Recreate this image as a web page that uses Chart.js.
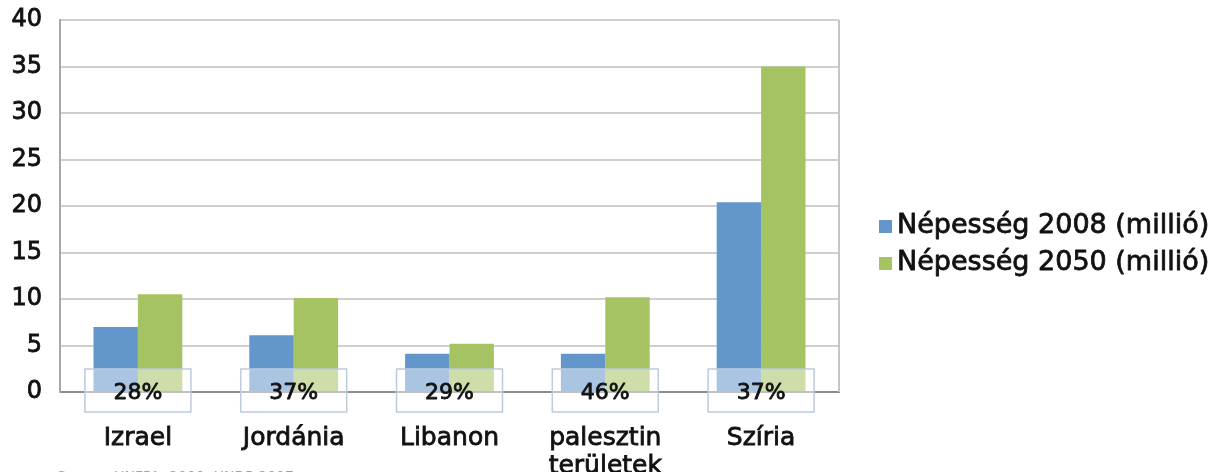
<!DOCTYPE html>
<html>
<head>
<meta charset="utf-8">
<script src="https://cdn.jsdelivr.net/npm/chart.js@4/dist/chart.umd.min.js"></script>
<style>
  html, body { margin: 0; padding: 0; background: #fff; }
  #wrap { width: 1217px; height: 472px; position: relative; }
</style>
</head>
<body>
<div id="wrap"><canvas id="chart"></canvas></div>
<script>
const countries = ['Izrael', 'Jordánia', 'Libanon', ['palesztin', 'területek'], 'Szíria'];
const pop2008 = [7.0, 6.1, 4.1, 4.1, 20.4];
const pop2050 = [10.5, 10.1, 5.2, 10.2, 35.0];
const shares = ['28%', '37%', '29%', '46%', '37%'];
const seriesNames = ['Népesség 2008 (millió)', 'Népesség 2050 (millió)'];

const FONT = '"DejaVu Sans", Verdana, sans-serif';
const BLUE = '#6396cb';
const GREEN = '#a6c364';

// draw text a bit heavier, like the blurred original
function heavyText(ctx, s, x, y, color) {
    ctx.fillStyle = color;
    ctx.strokeStyle = color;
    ctx.lineWidth = 0.8;
    ctx.lineJoin = 'round';
    ctx.strokeText(s, x, y);
    ctx.fillText(s, x, y);
}

// percent boxes sitting on the zero line
const shareBoxes = {
    id: 'shareBoxes',
    afterDatasetsDraw(chart) {
        const ctx = chart.ctx, x = chart.scales.x, y = chart.scales.y;
        const y0 = y.getPixelForValue(0);
        ctx.save();
        shares.forEach((s, i) => {
            const cx = x.getPixelForValue(i);
            ctx.fillStyle = 'rgba(255,255,255,0.45)';
            ctx.fillRect(cx - 53, y0 - 23, 106, 43);
            ctx.strokeStyle = '#bccbde';
            ctx.lineWidth = 1.5;
            ctx.strokeRect(cx - 53, y0 - 23, 106, 43);
            ctx.font = '22px ' + FONT;
            ctx.textAlign = 'center';
            ctx.textBaseline = 'middle';
            heavyText(ctx, s, cx, y0 + 1, '#111');
        });
        ctx.restore();
    }
};

// right edge of the plot frame, legend and source line
const extras = {
    id: 'extras',
    afterDraw(chart) {
        const ctx = chart.ctx, a = chart.chartArea;
        ctx.save();
        ctx.strokeStyle = '#c4c4c4';
        ctx.lineWidth = 2;
        ctx.beginPath();
        ctx.moveTo(a.right, a.top);
        ctx.lineTo(a.right, a.bottom);
        ctx.stroke();

        chart.data.datasets.forEach((ds, i) => {
            const cy = 226 + i * 37;
            ctx.fillStyle = ds.backgroundColor;
            ctx.fillRect(879, cy - 6, 13, 13);
            ctx.font = '27px ' + FONT;
            ctx.textAlign = 'left';
            ctx.textBaseline = 'middle';
            heavyText(ctx, ds.label, 897, cy, '#111');
        });

        ctx.fillStyle = '#a0a0a0';
        ctx.font = '14px ' + FONT;
        ctx.textBaseline = 'alphabetic';
        ctx.fillText('Source: UNFPA, 2008; UNDP 2007', 57, 481);
        ctx.restore();
    }
};

function init() {
    const ctx = document.getElementById('chart').getContext('2d');
    new Chart(ctx, {
        type: 'bar',
        data: {
            labels: countries,
            datasets: [
                { label: seriesNames[0], data: pop2008, backgroundColor: BLUE },
                { label: seriesNames[1], data: pop2050, backgroundColor: GREEN }
            ]
        },
        options: {
            responsive: true,
            maintainAspectRatio: false,
            animation: false,
            events: [],
            layout: { padding: { top: 20, right: 378, left: 0, bottom: 0 } },
            datasets: { bar: { categoryPercentage: 0.57, barPercentage: 1.0 } },
            plugins: { legend: { display: false }, tooltip: { enabled: false } },
            scales: {
                x: {
                    grid: { display: false, drawTicks: false },
                    border: { display: true, color: '#8c8c8c', width: 2 },
                    ticks: {
                        padding: 33,
                        color: '#111',
                        textStrokeColor: '#111',
                        textStrokeWidth: 0.8,
                        maxRotation: 0,
                        autoSkip: false,
                        font: { family: FONT, size: 25, lineHeight: 1.1 }
                    },
                    afterFit(scale) { scale.height = 80; }
                },
                y: {
                    min: 0,
                    max: 40,
                    ticks: {
                        stepSize: 5,
                        padding: 18,
                        color: '#111',
                        textStrokeColor: '#111',
                        textStrokeWidth: 0.8,
                        font: { family: FONT, size: 24 }
                    },
                    grid: { color: '#cfcfcf', lineWidth: 2, drawTicks: false },
                    border: { display: true, color: '#a8a8a8', width: 2 },
                    afterFit(scale) {
                        scale.width = 60;
                        scale.paddingTop = 0;
                        scale.paddingBottom = 0;
                    }
                }
            }
        },
        plugins: [shareBoxes, extras]
    });
}
init();
</script>
</body>
</html>
